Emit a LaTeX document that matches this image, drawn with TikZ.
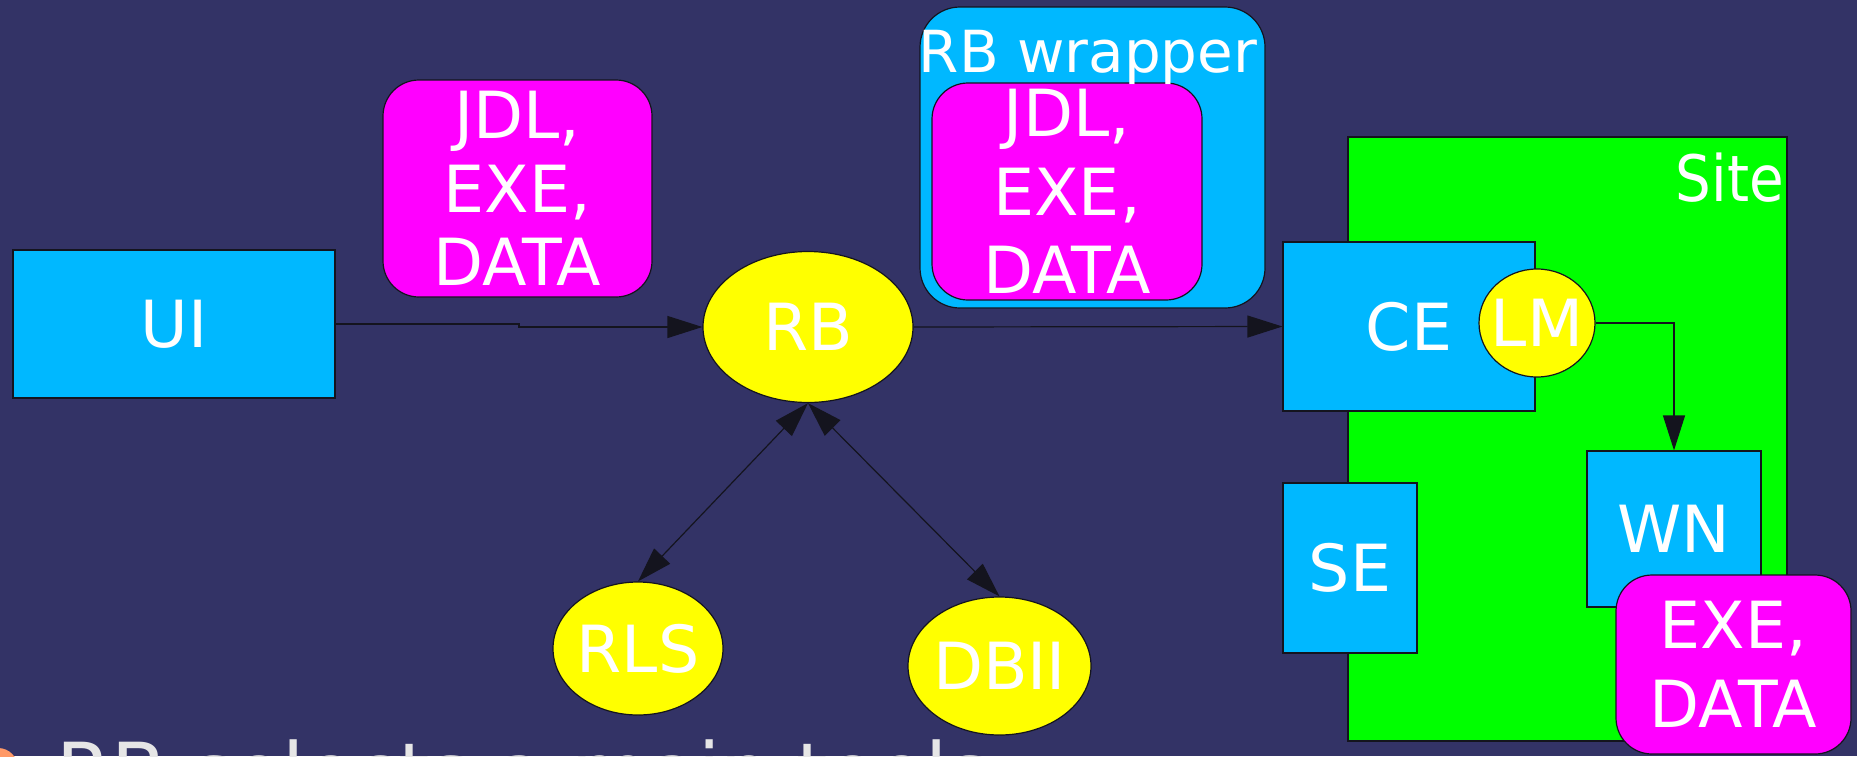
\documentclass[tikz,border=0pt]{standalone}
\usepackage{fontspec}
\setmainfont{DejaVu Sans}
\newfontfamily\narrowfont{DejaVu Sans}[FakeStretch=0.88]
\usetikzlibrary{shapes.geometric,arrows.meta}
\definecolor{bg}{RGB}{51,51,102}
\definecolor{cyanbox}{RGB}{0,184,255}
\definecolor{magbox}{RGB}{255,0,255}
\definecolor{greenbox}{RGB}{0,255,0}
\definecolor{yell}{RGB}{255,255,0}
\definecolor{bulletor}{RGB}{255,153,102}
\definecolor{txtgrey}{RGB}{230,230,230}
\definecolor{edge}{RGB}{20,20,30}
\newcommand\dfont{\fontsize{65}{74}\selectfont}
\begin{document}
\begin{tikzpicture}[x=1pt,y=-1pt,
  base/.style={draw=edge, line width=1.2pt, inner sep=0pt, text=white, font=\dfont, align=center},
  cbox/.style={base, rectangle, fill=cyanbox},
  mbox/.style={base, rectangle, fill=magbox, rounded corners=36pt},
  ell/.style={base, ellipse, fill=yell, inner xsep=-6pt},
  arr/.style={draw=edge, line width=1.2pt, -{Triangle[length=35pt,width=22pt]}},
  darr/.style={draw=edge, line width=1.2pt, {Triangle[length=35pt,width=22pt]}-{Triangle[length=35pt,width=22pt]}},
  lbl/.style={inner sep=0pt, text=white, font=\dfont}]
\useasboundingbox (0,0) rectangle (1857,756);
\clip (0,0) rectangle (1857,756);
\fill[bg] (0,0) rectangle (1857,756);

% left part
\node[cbox, minimum width=322pt, minimum height=148pt] (UI) at (174,324) {UI};
\node[mbox, minimum width=269pt, minimum height=217pt, font=\fontsize{65}{73.5}\selectfont] (JDLa) at (517.5,188.5) {JDL,\\EXE,\\DATA};
\node[ell, minimum width=210pt, minimum height=151pt] (RB) at (808,327) {RB};
\node[ell, minimum width=170pt, minimum height=133pt] (RLS) at (638,648.5) {RLS};
\node[ell, minimum width=183pt, minimum height=138pt] (DBII) at (999.5,666) {DBII};

% RB wrapper
\node[cbox, rounded corners=40pt, minimum width=345pt, minimum height=301pt] (WRAP) at (1092.5,157.5) {};
\node[mbox, minimum width=270pt, minimum height=217pt, font=\fontsize{65}{78.5}\selectfont] (JDLb) at (1067,191.5) {JDL,\\EXE,\\DATA};
\node[lbl, anchor=base, font=\fontsize{58}{58}\selectfont] (WRAPT) at (1088,72) {RB wrapper};

% Site
\node[base, rectangle, fill=greenbox, minimum width=439pt, minimum height=604pt] (SITE) at (1567.5,439) {};
\node[lbl, anchor=base east, font=\narrowfont\fontsize{64}{64}\selectfont] (SITET) at (1784,201) {Site};
\node[cbox, minimum width=252pt, minimum height=169pt] (CE) at (1409,326.5) {CE};
\node[cbox, minimum width=134pt, minimum height=170pt] (SE) at (1350,568) {SE};
\node[cbox, minimum width=174pt, minimum height=156pt] (WN) at (1674,529) {WN};
\node[ell, inner xsep=-9pt, minimum width=116pt, minimum height=108pt] (LM) at (1537,323) {LM};
\node[mbox, minimum width=235pt, minimum height=179pt, font=\fontsize{65}{79.5}\selectfont] (EXE) at (1733.5,664.5) {EXE,\\DATA};

% connectors
\coordinate (jog) at (519,0);
\draw[arr] (UI.east) -- (UI.east -| jog) |- (RB.west);
\draw[arr] (RB.east) -- (CE.west);
\draw[darr] (RB.south) -- (RLS.north);
\draw[darr] (RB.south) -- (DBII.north);
\draw[arr] (LM.east) -| (WN.north);

% cut-off bullet line at the bottom
\node[circle, fill=bulletor, minimum size=40pt, inner sep=0pt] (BUL) at (-2,768) {};
\node[anchor=base west, inner sep=0pt, text=txtgrey, font=\fontsize{80}{80}\selectfont] (BTXT) at (56,800) {RB selects a main tools};
\end{tikzpicture}
\end{document}
